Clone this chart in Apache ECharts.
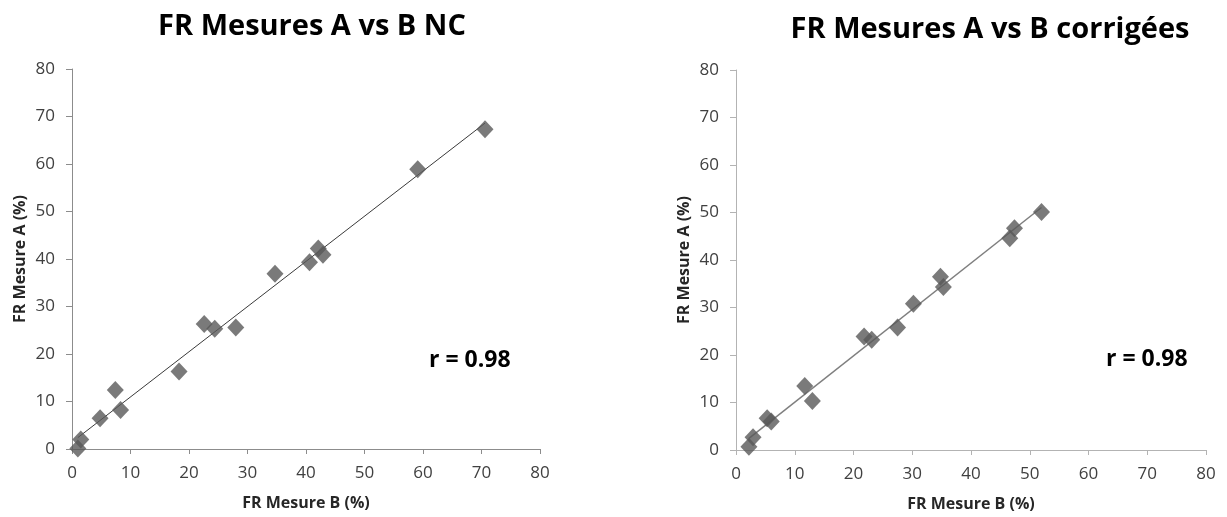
<!DOCTYPE html>
<html>
<head>
<meta charset="utf-8">
<script src="https://cdn.jsdelivr.net/npm/echarts@6/dist/echarts.min.js"></script>
<style>
html,body{margin:0;padding:0;background:#fff;}
#c{width:1227px;height:517px;}
</style>
</head>
<body>
<div id="c"></div>
<script>
// ---- data ----
const titles = ['FR Mesures A vs B NC', 'FR Mesures A vs B corrigées'];
const xName = 'FR Mesure B (%)';
const yName = 'FR Mesure A (%)';
const rLabel = 'r = 0.98';
const leftB  = [1.0, 1.5, 4.8, 7.4, 8.3, 18.3, 22.6, 24.4, 28.0, 34.7, 40.6, 42.1, 42.9, 59.1, 70.6];
const leftA  = [0.1, 2.0, 6.5, 12.4, 8.2, 16.3, 26.3, 25.3, 25.6, 36.9, 39.3, 42.2, 40.9, 58.9, 67.3];
const rightB = [2.2, 2.9, 5.3, 6.0, 11.7, 13.0, 21.8, 23.1, 27.5, 30.2, 34.8, 35.3, 46.6, 47.4, 52.0];
const rightA = [0.7, 2.7, 6.7, 6.0, 13.5, 10.3, 23.9, 23.2, 25.8, 30.8, 36.5, 34.3, 44.6, 46.7, 50.1];
const axisMin = 0, axisMax = 80, axisStep = 10;

function pairs(xs, ys) { return xs.map((x, i) => [x, ys[i]]); }
function trend(xs, ys) {
  const n = xs.length;
  const mx = xs.reduce((a, b) => a + b, 0) / n;
  const my = ys.reduce((a, b) => a + b, 0) / n;
  let sxy = 0, sxx = 0;
  for (let i = 0; i < n; i++) { sxy += (xs[i] - mx) * (ys[i] - my); sxx += (xs[i] - mx) * (xs[i] - mx); }
  const k = sxy / sxx, b = my - k * mx;
  const x0 = Math.min(...xs), x1 = Math.max(...xs);
  return [[x0, k * x0 + b], [x1, k * x1 + b]];
}

const FONT = 'Open Sans';
function xAxis(gi, axisColor) {
  return {
    type: 'value', gridIndex: gi, min: axisMin, max: axisMax, interval: axisStep,
    name: xName, nameLocation: 'middle', nameGap: 46,
    nameTextStyle: { fontFamily: FONT, fontWeight: 'bold', fontSize: 16, color: '#262626' },
    axisLine: { show: true, lineStyle: { color: axisColor, width: 1 } },
    axisTick: { show: true, length: 5, lineStyle: { color: axisColor } },
    axisLabel: { margin: 16, fontFamily: FONT, fontSize: 17, color: '#404040' },
    splitLine: { show: false }
  };
}
function yAxis(gi, axisColor) {
  return {
    type: 'value', gridIndex: gi, min: axisMin, max: axisMax, interval: axisStep,
    name: yName, nameLocation: 'middle', nameGap: 44, nameRotate: 90,
    nameTextStyle: { fontFamily: FONT, fontWeight: 'bold', fontSize: 16, color: '#262626' },
    axisLine: { show: true, lineStyle: { color: axisColor, width: 1 } },
    axisTick: { show: true, length: 6, lineStyle: { color: axisColor } },
    axisLabel: { margin: 17, fontFamily: FONT, fontSize: 17, color: '#404040' },
    splitLine: { show: false }
  };
}

const chart = echarts.init(document.getElementById('c'), null, { renderer: 'canvas' });
chart.setOption({
  animation: false,
  backgroundColor: '#fff',
  title: [
    { text: titles[0], left: 307, top: 7, textAlign: 'center',
      textStyle: { fontFamily: FONT, fontWeight: 'bold', fontSize: 29, color: '#000' } },
    { text: titles[1], left: 985, top: 10, textAlign: 'center',
      textStyle: { fontFamily: FONT, fontWeight: 'bold', fontSize: 29, color: '#000' } }
  ],
  grid: [
    { left: 72, top: 69, width: 468, height: 380, containLabel: false, outerBoundsMode: 'none' },
    { left: 736, top: 70, width: 470, height: 380, containLabel: false, outerBoundsMode: 'none' }
  ],
  xAxis: [xAxis(0, '#8c8c8c'), xAxis(1, '#b3b3b3')],
  yAxis: [yAxis(0, '#8c8c8c'), yAxis(1, '#b3b3b3')],
  graphic: [
    { type: 'text', left: 429, top: 349, style: { text: rLabel, font: 'bold 23px "Open Sans"', fill: '#000' } },
    { type: 'text', left: 1106, top: 348, style: { text: rLabel, font: 'bold 23px "Open Sans"', fill: '#000' } }
  ],
  series: [
    { type: 'line', xAxisIndex: 0, yAxisIndex: 0, data: trend(leftB, leftA), symbol: 'none',
      lineStyle: { color: '#3a3a3a', width: 1 }, z: 2 },
    { type: 'line', xAxisIndex: 1, yAxisIndex: 1, data: trend(rightB, rightA), symbol: 'none',
      lineStyle: { color: '#7f7f7f', width: 1.5 }, z: 2 },
    { type: 'scatter', xAxisIndex: 0, yAxisIndex: 0, data: pairs(leftB, leftA), symbol: 'diamond',
      symbolSize: [17, 18], itemStyle: { color: '#595959' }, z: 3 },
    { type: 'scatter', xAxisIndex: 1, yAxisIndex: 1, data: pairs(rightB, rightA), symbol: 'diamond',
      symbolSize: [17, 18], itemStyle: { color: '#595959' }, z: 3 }
  ]
});
</script>
</body>
</html>
